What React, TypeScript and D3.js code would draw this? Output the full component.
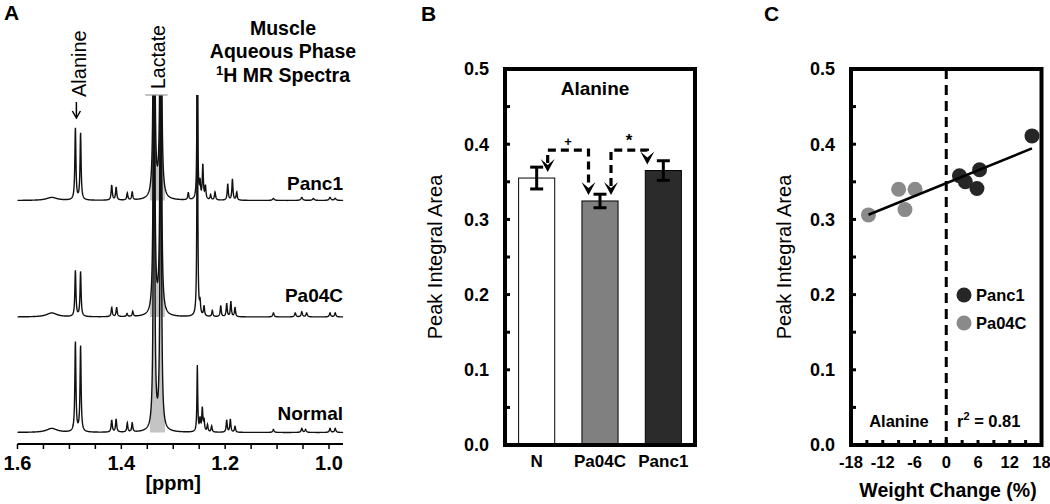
import React from 'react';
import * as d3 from 'd3';

const FONT = '"Liberation Sans", Arial, Helvetica, sans-serif';

// ---------- Panel A: 1H MR spectra, peaks as [ppm, height, half-width] ----------
const spectrumNames = ['Panc1', 'Pa04C', 'Normal'];

const panc1Peaks = [
  [1.534, 3, 0.012], [1.4885, 72, 0.0012], [1.4785, 67, 0.0012],
  [1.4185, 15, 0.0013], [1.410, 13, 0.0013], [1.3885, 7, 0.0012], [1.379, 8, 0.0012],
  [1.337, 450, 0.0013], [1.324, 450, 0.0013],
  [1.271, 7, 0.0012], [1.2536, 200, 0.0008], [1.2484, 16, 0.0012], [1.243, 34, 0.0012],
  [1.238, 13, 0.0012], [1.228, 5, 0.0012], [1.2195, 8, 0.0013],
  [1.195, 16, 0.0012], [1.186, 21, 0.0012], [1.1777, 8, 0.0012],
  [1.107, 2, 0.002], [1.0524, 3, 0.002], [1.030, 2, 0.002], [0.998, 3, 0.002], [0.988, 2, 0.002],
];

const pa04cPeaks = [
  [1.534, 4, 0.012], [1.4885, 46, 0.0012], [1.4785, 45, 0.0012],
  [1.4185, 9, 0.0013], [1.409, 9, 0.0013], [1.389, 3, 0.0012], [1.378, 5, 0.0012],
  [1.337, 450, 0.0013], [1.324, 450, 0.0013],
  [1.2536, 300, 0.0008], [1.2484, 12, 0.0012], [1.2407, 10, 0.0012], [1.2247, 6, 0.0012],
  [1.2085, 11, 0.0012], [1.197, 13, 0.0012], [1.189, 15, 0.0012], [1.181, 9, 0.0012],
  [1.107, 4, 0.0015], [1.065, 4, 0.0015], [1.0524, 5, 0.0015], [1.043, 4, 0.0015],
  [0.998, 4, 0.0015], [0.988, 4, 0.0015],
];

const normalPeaks = [
  [1.534, 4, 0.012], [1.4885, 90, 0.0012], [1.4785, 86, 0.0012],
  [1.4185, 12, 0.0013], [1.410, 13, 0.0013], [1.3885, 9, 0.0012], [1.379, 9, 0.0012],
  [1.337, 450, 0.0013], [1.324, 450, 0.0013],
  [1.2536, 66, 0.0009], [1.2484, 12, 0.0012], [1.2440, 23, 0.0012], [1.2407, 11, 0.0012],
  [1.234, 7, 0.0012], [1.226, 6, 0.0012],
  [1.197, 12, 0.0012], [1.190, 13, 0.0012], [1.181, 6, 0.0012],
  [1.107, 3, 0.0015], [1.0524, 4, 0.0015], [1.045, 3, 0.0015], [0.998, 4, 0.0015], [0.988, 4, 0.0015],
];

const spectrumPeaks = [panc1Peaks, pa04cPeaks, normalPeaks];
const ppmTicks = [1.6, 1.4, 1.2, 1.0];

// ---------- Panel B: bar chart ----------
const groups = ['N', 'Pa04C', 'Panc1'];
const groupMeans = [0.355, 0.3245, 0.365];
const groupErrors = [0.0145, 0.009, 0.013];
const groupFills = ['#ffffff', '#808080', '#2b2b2b'];
const sigPairs = [
  ['N', 'Pa04C', '+'],
  ['Pa04C', 'Panc1', '*'],
];
const sigLevel = 0.392;

// ---------- Panel C: scatter ----------
const panc1Weight = [2.5, 3.6, 6.3, 5.8, 16.2];
const panc1Alanine = [0.358, 0.350, 0.366, 0.341, 0.411];
const pa04cWeight = [-14.7, -9.0, -5.9, -7.8];
const pa04cAlanine = [0.306, 0.340, 0.340, 0.313];
const weightTicks = [-18, -12, -6, 0, 6, 12, 18];
const alanineTicks = [0, 0.1, 0.2, 0.3, 0.4, 0.5];

const Spectra = () => {
  const x = d3.scaleLinear().domain([1.6, 0.973]).range([17.5, 343]);
  const amp = d3.scaleLinear().domain([0, 100]).range([0, 100]);
  const baselines = [200.5, 317, 432.5];
  const labelY = [190, 302, 420];
  const grid = d3.range(1.6, 0.9725, -0.0004);
  const lorentz = (peaks, p) =>
    d3.sum(peaks, ([c, h, w]) => (h * w * w) / ((p - c) * (p - c) + w * w));

  const clipTop = 95;
  return (
    <g>
      <defs>
        <clipPath id="specClip">
          <rect x={10} y={clipTop} width={340} height={350} />
        </clipPath>
      </defs>
      <g clipPath="url(#specClip)">
        {spectrumPeaks.map((peaks, i) => {
          const pts = grid.filter((p) => p <= 1.345 && p >= 1.316);
          const area = d3
            .area<number>()
            .x((p) => x(p))
            .y0(baselines[i])
            .y1((p) => baselines[i] - amp(lorentz(peaks, p)));
          return <path key={'f' + i} d={area(pts) || ''} fill="#c4c4c4" />;
        })}
        {spectrumPeaks.map((peaks, i) => {
          const line = d3
            .line<number>()
            .x((p) => x(p))
            .y((p) => baselines[i] - amp(lorentz(peaks, p)));
          return (
            <path key={'l' + i} d={line(grid) || ''} fill="none" stroke="#111" strokeWidth={1.4} />
          );
        })}
      </g>
      <line x1={x(1.354)} x2={x(1.311)} y1={clipTop} y2={clipTop} stroke="#999" strokeWidth={1.2} />
      {spectrumNames.map((n, i) => (
        <text key={n} x={343} y={labelY[i]} textAnchor="end" fontSize={19} fontWeight="bold">
          {n}
        </text>
      ))}
      {/* axis */}
      <line x1={x(1.6)} x2={x(0.973)} y1={444} y2={444} stroke="#000" strokeWidth={2} />
      {d3.range(1.6, 0.97, -0.05).map((t) => (
        <line key={t} x1={x(t)} x2={x(t)} y1={444} y2={449} stroke="#000" strokeWidth={1.5} />
      ))}
      {ppmTicks.map((t) => (
        <text key={t} x={x(t)} y={470} textAnchor="middle" fontSize={20} fontWeight="bold">
          {t.toFixed(1)}
        </text>
      ))}
      <text x={x(1.3)} y={490} textAnchor="middle" fontSize={20} fontWeight="bold">
        [ppm]
      </text>
      {/* peak labels */}
      <text transform={`translate(165,89) rotate(-90)`} fontSize={19.5}>
        Lactate
      </text>
      <text transform={`translate(86,97) rotate(-90)`} fontSize={20}>
        Alanine
      </text>
      <line x1={x(1.4885) + 1} x2={x(1.4885) + 1} y1={102} y2={117} stroke="#000" strokeWidth={1.5} />
      <path
        d={`M${x(1.4885) - 3},${111} L${x(1.4885) + 1},${118} L${x(1.4885) + 5},${111}`}
        fill="none"
        stroke="#000"
        strokeWidth={1.5}
      />
      <g fontSize={19.5} fontWeight="bold" textAnchor="middle">
        <text x={283} y={35}>Muscle</text>
        <text x={283} y={58}>Aqueous Phase</text>
        <text x={283} y={82}>
          <tspan fontSize={13} dy={-7}>1</tspan>
          <tspan dy={7}>H MR Spectra</tspan>
        </text>
      </g>
      <text x={4} y={20} fontSize={21} fontWeight="bold">A</text>
    </g>
  );
};

const YAxisFrame = ({ left, right, y, labelX, titleX }) => (
  <g>
    {d3.range(0.05, 0.5, 0.05).map((t) => (
      <line key={t} x1={left} x2={left + 5} y1={y(t)} y2={y(t)} stroke="#000" strokeWidth={3} />
    ))}
    {alanineTicks.map((t) => (
      <text key={t} x={labelX} y={y(t)} dy="0.36em" textAnchor="end" fontSize={18} fontWeight="bold">
        {t.toFixed(1)}
      </text>
    ))}
    <text transform={`translate(${titleX},${(y(0) + y(0.5)) / 2 + 0}) rotate(-90)`} textAnchor="middle" fontSize={20}>
      Peak Integral Area
    </text>
    <rect x={left} y={y(0.5)} width={right - left} height={y(0) - y(0.5)} fill="none" stroke="#000" strokeWidth={4} />
  </g>
);

const arrowHead = (tx, ty) => `M${tx},${ty} L${tx - 7},${ty - 13} L${tx},${ty - 7} L${tx + 7},${ty - 13} Z`;

const BarPanel = () => {
  const left = 505;
  const right = 695;
  const y = d3.scaleLinear().domain([0, 0.5]).range([445, 69]);
  const xb = d3.scaleBand().domain(groups).range([left, right]).paddingInner(0.43).paddingOuter(0.215);
  const center = (g) => xb(g) + xb.bandwidth() / 2;
  const yLevel = y(sigLevel);
  return (
    <g>
      {groups.map((g, i) => (
        <rect
          key={g}
          x={xb(g)}
          y={y(groupMeans[i])}
          width={xb.bandwidth()}
          height={y(0) - y(groupMeans[i])}
          fill={groupFills[i]}
          stroke="#000"
          strokeWidth={1}
        />
      ))}
      {groups.map((g, i) => {
        const cx = center(g);
        const y1 = y(groupMeans[i] + groupErrors[i]);
        const y2 = y(groupMeans[i] - groupErrors[i]);
        return (
          <g key={'e' + g} stroke="#000" strokeWidth={3}>
            <line x1={cx} x2={cx} y1={y1} y2={y2} />
            <line x1={cx - 6.5} x2={cx + 6.5} y1={y1} y2={y1} />
            <line x1={cx - 6.5} x2={cx + 6.5} y1={y2} y2={y2} />
          </g>
        );
      })}
      {sigPairs.map(([a, b, lab]) => {
        const ia = groups.indexOf(a);
        const ib = groups.indexOf(b);
        const xa = center(a) + 11;
        const xb2 = center(b) - (ib === 2 ? 16 : 11.5);
        const ta = y(groupMeans[ia]) - 6;
        const tb = y(groupMeans[ib]) - 6;
        return (
          <g key={lab}>
            <path
              d={`M${xa},${ta - 9} L${xa},${yLevel} L${xb2},${yLevel} L${xb2},${tb - 9}`}
              fill="none"
              stroke="#000"
              strokeWidth={3.2}
              strokeDasharray="8,5"
            />
            <path d={arrowHead(xa, ta)} fill="#000" />
            <path d={arrowHead(xb2, tb)} fill="#000" />
            <text x={(xa + xb2) / 2} y={yLevel - 4} textAnchor="middle" fontSize={lab === '*' ? 17 : 13} fontWeight="bold">
              {lab}
            </text>
          </g>
        );
      })}
      <YAxisFrame left={left} right={right} y={y} labelX={489} titleX={442} />
      <text x={(left + right) / 2 - 5} y={95} textAnchor="middle" fontSize={19} fontWeight="bold">
        Alanine
      </text>
      {groups.map((g) => (
        <text key={'t' + g} x={center(g)} y={467} textAnchor="middle" fontSize={17} fontWeight="bold">
          {g}
        </text>
      ))}
      <text x={421} y={21} fontSize={21} fontWeight="bold">B</text>
    </g>
  );
};

const ScatterPanel = () => {
  const left = 851;
  const right = 1041.5;
  const y = d3.scaleLinear().domain([0, 0.5]).range([445, 69]);
  const x = d3.scaleLinear().domain([-18, 18]).range([left, right]);
  const allX = [...pa04cWeight, ...panc1Weight];
  const allY = [...pa04cAlanine, ...panc1Alanine];
  const mx = d3.mean(allX);
  const my = d3.mean(allY);
  const slope =
    d3.sum(allX, (v, i) => (v - mx) * (allY[i] - my)) / d3.sum(allX, (v) => (v - mx) * (v - mx));
  const icpt = my - slope * mx;
  const [x0, x1] = d3.extent(allX);
  return (
    <g>
      <line x1={x(0)} x2={x(0)} y1={y(0.5)} y2={y(0)} stroke="#000" strokeWidth={3} strokeDasharray="10,6" />
      {d3.range(-15, 16, 3).map((t) => (
        <line key={t} x1={x(t)} x2={x(t)} y1={y(0)} y2={y(0) - 5} stroke="#000" strokeWidth={3} />
      ))}
      {pa04cWeight.map((w, i) => (
        <circle key={'g' + i} cx={x(w)} cy={y(pa04cAlanine[i])} r={7.5} fill="#8a8a8a" />
      ))}
      {panc1Weight.map((w, i) => (
        <circle key={'k' + i} cx={x(w)} cy={y(panc1Alanine[i])} r={7.5} fill="#262626" />
      ))}
      <line
        x1={x(x0)}
        x2={x(x1)}
        y1={y(icpt + slope * x0)}
        y2={y(icpt + slope * x1)}
        stroke="#000"
        strokeWidth={2.5}
      />
      <YAxisFrame left={left} right={right} y={y} labelX={835} titleX={791} />
      {weightTicks.map((t) => (
        <text key={t} x={x(t)} y={468} textAnchor="middle" fontSize={16.5} fontWeight="bold">
          {t}
        </text>
      ))}
      <text x={948} y={497} textAnchor="middle" fontSize={19.5} fontWeight="bold">
        Weight Change (%)
      </text>
      <circle cx={964} cy={295} r={7.5} fill="#262626" />
      <circle cx={964} cy={323} r={7.5} fill="#8a8a8a" />
      <text x={976} y={295} dy="0.36em" fontSize={16.5} fontWeight="bold">Panc1</text>
      <text x={976} y={323} dy="0.36em" fontSize={16.5} fontWeight="bold">Pa04C</text>
      <text x={899} y={427} textAnchor="middle" fontSize={16.5} fontWeight="bold">Alanine</text>
      <text x={957} y={427} fontSize={16.5} fontWeight="bold">
        r<tspan fontSize={11} dy={-7}>2</tspan>
        <tspan dy={7}> = 0.81</tspan>
      </text>
      <text x={764} y={21} fontSize={21} fontWeight="bold">C</text>
    </g>
  );
};

export default function App() {
  return (
    <svg
      width={1050}
      height={504}
      style={{ position: 'absolute', left: 0, top: 0, background: '#fff' }}
      fontFamily={FONT}
      fill="#000"
    >
      <rect width={1050} height={504} fill="#fff" />
      <Spectra />
      <BarPanel />
      <ScatterPanel />
    </svg>
  );
}
